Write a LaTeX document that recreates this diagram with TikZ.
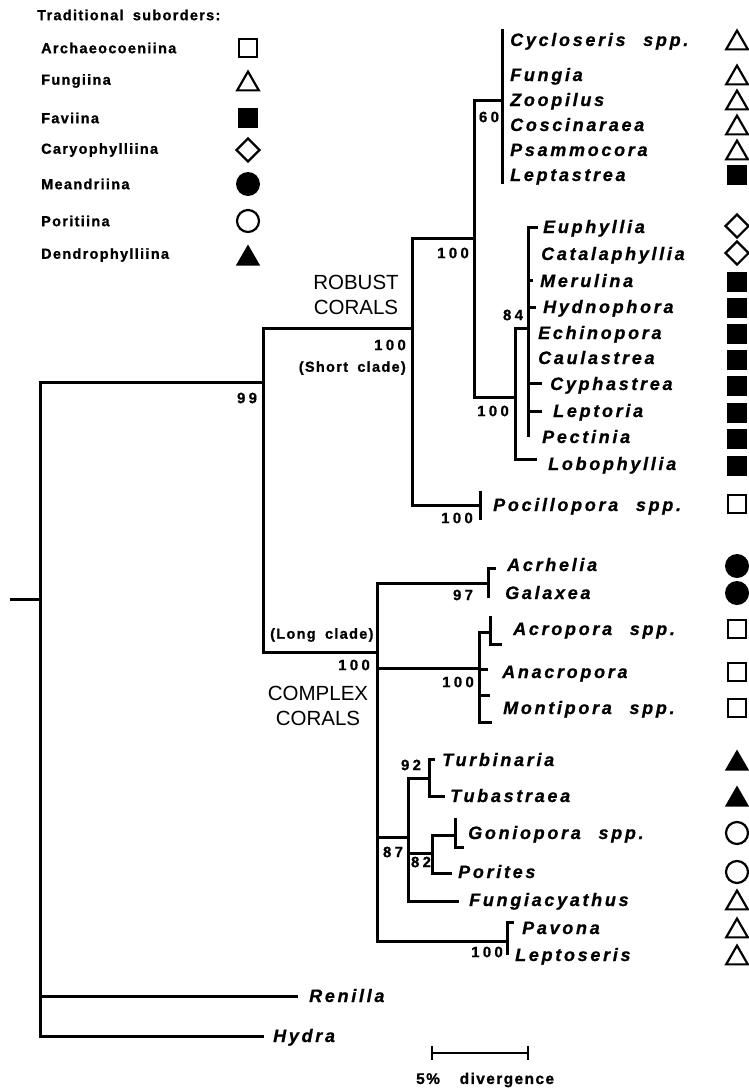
\documentclass[tikz,border=0pt]{standalone}
\usepackage{fontspec}
\setmainfont{Liberation Sans}
\newfontfamily\taxfont[LetterSpace=15, FakeBold=0.8]{Liberation Sans}
\newfontfamily\numfont[LetterSpace=22, FakeBold=0.6]{Liberation Sans}
\newfontfamily\legfont[LetterSpace=9, FakeBold=1.0]{Liberation Sans}
\usetikzlibrary{shapes.geometric}
\begin{document}
\begin{tikzpicture}[x=1pt,y=-1pt,
  br/.style={line width=3pt, line cap=rect, line join=miter},
  tax/.style={anchor=base west, inner sep=0pt, font=\taxfont\bfseries\itshape\fontsize{18}{21}\selectfont},
  supp/.style={inner sep=0pt, font=\numfont\bfseries\fontsize{15}{17}\selectfont},
  cladelab/.style={inner sep=0pt, align=center, font=\fontsize{20.5}{25}\selectfont},
  paren/.style={inner sep=0pt, font=\legfont\bfseries\fontsize{14.5}{16}\selectfont},
  legtxt/.style={anchor=west, inner sep=0pt, font=\legfont\bfseries\fontsize{14.5}{16}\selectfont},
  osq/.style={draw, rectangle, minimum size=18pt, line width=2.2pt, inner sep=0pt},
  fsq/.style={fill, rectangle, minimum size=20pt, inner sep=0pt},
  otri/.style={draw, regular polygon, regular polygon sides=3, minimum size=25pt, line width=2.2pt, inner sep=0pt, yshift=-3.1pt},
  ftri/.style={fill, regular polygon, regular polygon sides=3, minimum size=28pt, inner sep=0pt, yshift=-3.5pt},
  odia/.style={draw, diamond, minimum width=24pt, minimum height=24pt, line width=2.2pt, inner sep=0pt},
  fcirc/.style={fill, circle, minimum size=24pt, inner sep=0pt},
  ocirc/.style={draw, circle, minimum size=22pt, line width=2.2pt, inner sep=0pt}]
\useasboundingbox (0,0) rectangle (748,1090);

% ---------- legend ----------
\node[legtxt] (legtitle) at (37,15) {Traditional\hspace{4pt} suborders:};
\node[legtxt] (l1) at (41,48) {Archaeocoeniina};
\node[legtxt] (l2) at (41,81) {Fungiina};
\node[legtxt] (l3) at (41,118) {Faviina};
\node[legtxt] (l4) at (41,150) {Caryophylliina};
\node[legtxt] (l5) at (41,184) {Meandriina};
\node[legtxt] (l6) at (41,221) {Poritiina};
\node[legtxt] (l7) at (41,255) {Dendrophylliina};
\node[osq] (s1) at (248,48) {};
\node[otri] (s2) at (248,81) {};
\node[fsq] (s3) at (248,118) {};
\node[odia] (s4) at (248,150) {};
\node[fcirc] (s5) at (248,184) {};
\node[ocirc] (s6) at (248,221) {};
\node[ftri] (s7) at (248,255) {};

% ---------- tree coordinates ----------
\coordinate (root0) at (11,599);
\coordinate (root) at (40,599);
\coordinate (n99) at (263,382);
\coordinate (nR) at (412,328);
\coordinate (nA) at (474,238);
\coordinate (n60) at (502,100);
\coordinate (n60t) at (502,30);
\coordinate (n60b) at (502,182);
\coordinate (nB) at (515,397);
\coordinate (n84) at (528,328);
\coordinate (n84t) at (528,227);
\coordinate (n84b) at (528,435);
\coordinate (kEup) at (536,227);
\coordinate (kMer0) at (528,280);
\coordinate (kMer) at (531,280);
\coordinate (kHyd0) at (528,307);
\coordinate (kHyd) at (534,307);
\coordinate (kCyp0) at (528,383);
\coordinate (kCyp) at (540,383);
\coordinate (kLep0) at (528,411);
\coordinate (kLep) at (540,411);
\coordinate (tLob) at (535,459);
\coordinate (tPoc) at (480,505);
\coordinate (tPoct) at (480,492);
\coordinate (tPocb) at (480,518);
\coordinate (nC) at (377,652);
\coordinate (nAG) at (488,583);
\coordinate (nAGt) at (488,568);
\coordinate (nAGb) at (488,596);
\coordinate (kAcr) at (494,568);
\coordinate (nAcr) at (479,668);
\coordinate (tAcro) at (490,632);
\coordinate (tAcrot) at (490,617);
\coordinate (tAcrob) at (490,644);
\coordinate (tAcrof) at (500,644);
\coordinate (tAnac) at (486,669);
\coordinate (tMonb) at (490,722);
\coordinate (kMon0) at (479,695);
\coordinate (kMon) at (488,695);
\coordinate (nDP) at (408,837);
\coordinate (n92) at (429,778);
\coordinate (tTurb) at (433,759);
\coordinate (tTub) at (443,796);
\coordinate (n82) at (432,853);
\coordinate (tGon) at (455,835);
\coordinate (tGont) at (455,819);
\coordinate (tGonb) at (455,847);
\coordinate (tGonf) at (462,847);
\coordinate (tPor) at (450,873);
\coordinate (tFun) at (457,901);
\coordinate (nPL) at (507,941);
\coordinate (nPLt) at (507,922);
\coordinate (nPLb) at (507,953);
\coordinate (kPav) at (512,922);
\coordinate (tRen) at (296,996);
\coordinate (tHyd) at (262,1036);

% ---------- tree branches ----------
\draw[br] (root0) -- (root);
\draw[br] (root) |- (n99);
\draw[br] (root) |- (tRen);
\draw[br] (root) |- (tHyd);
\draw[br] (n99) |- (nR);
\draw[br] (n99) |- (nC);
\draw[br] (nR) |- (nA);
\draw[br] (nR) |- (tPoc);
\draw[br] (tPoct) -- (tPocb);
\draw[br] (nA) |- (n60);
\draw[br] (n60t) -- (n60b);
\draw[br] (nA) |- (nB);
\draw[br] (nB) |- (n84);
\draw[br] (nB) |- (tLob);
\draw[br] (n84t) -- (n84b);
\draw[br] (n84t) -- (kEup);
\draw[br] (kMer0) -- (kMer);
\draw[br] (kHyd0) -- (kHyd);
\draw[br] (kCyp0) -- (kCyp);
\draw[br] (kLep0) -- (kLep);
\draw[br] (nC) |- (nAG);
\draw[br] (nAGt) -- (nAGb);
\draw[br] (nAGt) -- (kAcr);
\draw[br] (nC) |- (nAcr);
\draw[br] (nAcr) |- (tAcro);
\draw[br] (tAcrot) -- (tAcrob) -- (tAcrof);
\draw[br] (nAcr) |- (tAnac);
\draw[br] (nAcr) |- (tMonb);
\draw[br] (kMon0) -- (kMon);
\draw[br] (nC) |- (nDP);
\draw[br] (nDP) |- (n92);
\draw[br] (n92) |- (tTurb);
\draw[br] (n92) |- (tTub);
\draw[br] (nDP) |- (n82);
\draw[br] (n82) |- (tGon);
\draw[br] (tGont) -- (tGonb) -- (tGonf);
\draw[br] (n82) |- (tPor);
\draw[br] (nDP) |- (tFun);
\draw[br] (nC) |- (nPL);
\draw[br] (nPLt) -- (nPLb);
\draw[br] (nPLt) -- (kPav);

% ---------- support values and clade labels ----------
\node[supp] (b99) at (247,398) {99};
\node[supp] (bR) at (390,345) {100};
\node[paren, anchor=east] (shortc) at (406,368) {(Short\hspace{4pt} clade)};
\node[cladelab] (robust) at (356,295) {ROBUST\\CORALS};
\node[supp] (bA) at (453,253) {100};
\node[supp] (b60) at (489,117) {60};
\node[supp] (bB) at (493,411) {100};
\node[supp] (b84) at (513,315) {84};
\node[supp] (bPoc) at (457,518) {100};
\node[paren, anchor=west] (longc) at (270,635) {(Long\hspace{4pt} clade)};
\node[supp] (bC) at (354,665) {100};
\node[cladelab] (complex) at (318,706) {COMPLEX\\CORALS};
\node[supp] (bAG) at (463,595) {97};
\node[supp] (bAcr) at (458,682) {100};
\node[supp] (b92) at (411,765) {92};
\node[supp] (b87) at (393,852) {87};
\node[supp] (b82) at (421,862) {82};
\node[supp] (bPL) at (487,952) {100};

% ---------- taxon names ----------
\node[tax] (Cyc) at (510,46) {Cycloseris\hspace{10pt} spp.};
\node[tax] (Fun) at (510,81) {Fungia};
\node[tax] (Zoo) at (510,106) {Zoopilus};
\node[tax] (Cos) at (510,131) {Coscinaraea};
\node[tax] (Psa) at (510,156) {Psammocora};
\node[tax] (Lpt) at (510,181) {Leptastrea};
\node[tax] (Eup) at (543,233) {Euphyllia};
\node[tax] (Cat) at (541,260) {Catalaphyllia};
\node[tax] (Mer) at (540,287) {Merulina};
\node[tax] (Hyd) at (543,313) {Hydnophora};
\node[tax] (Ech) at (538,339) {Echinopora};
\node[tax] (Cau) at (538,364) {Caulastrea};
\node[tax] (Cyp) at (550,390) {Cyphastrea};
\node[tax] (Leo) at (553,417) {Leptoria};
\node[tax] (Pec) at (542,443) {Pectinia};
\node[tax] (Lob) at (548,470) {Lobophyllia};
\node[tax] (Poc) at (493,511) {Pocillopora\hspace{10pt} spp.};
\node[tax] (Ach) at (507,571) {Acrhelia};
\node[tax] (Gal) at (505,599) {Galaxea};
\node[tax] (Acp) at (513,635) {Acropora\hspace{10pt} spp.};
\node[tax] (Ana) at (502,678) {Anacropora};
\node[tax] (Mon) at (503,714) {Montipora\hspace{10pt} spp.};
\node[tax] (Tur) at (442,766) {Turbinaria};
\node[tax] (Tub) at (450,802) {Tubastraea};
\node[tax] (Gon) at (468,839) {Goniopora\hspace{10pt} spp.};
\node[tax] (Por) at (458,878) {Porites};
\node[tax] (Fgc) at (469,906) {Fungiacyathus};
\node[tax] (Pav) at (522,934) {Pavona};
\node[tax] (Lps) at (515,961) {Leptoseris};
\node[tax] (Ren) at (309,1002) {Renilla};
\node[tax] (Hya) at (273,1042) {Hydra};

% ---------- suborder symbols ----------
\node[otri] (mCyc) at (737,40) {};
\node[otri] (mFun) at (737,75) {};
\node[otri] (mZoo) at (737,100) {};
\node[otri] (mCos) at (737,125) {};
\node[otri] (mPsa) at (737,150) {};
\node[fsq] (mLpt) at (737,175) {};
\node[odia] (mEup) at (737,226) {};
\node[odia] (mCat) at (737,253) {};
\node[fsq] (mMer) at (737,282) {};
\node[fsq] (mHyd) at (737,308) {};
\node[fsq] (mEch) at (737,334) {};
\node[fsq] (mCau) at (737,360) {};
\node[fsq] (mCyp) at (737,386) {};
\node[fsq] (mLeo) at (737,413) {};
\node[fsq] (mPec) at (737,439) {};
\node[fsq] (mLob) at (737,466) {};
\node[osq] (mPoc) at (737,504) {};
\node[fcirc] (mAch) at (737,566) {};
\node[fcirc] (mGal) at (737,593) {};
\node[osq] (mAcp) at (737,629) {};
\node[osq] (mAna) at (737,672) {};
\node[osq] (mMon) at (737,708) {};
\node[ftri] (mTur) at (737,760) {};
\node[ftri] (mTub) at (737,796) {};
\node[ocirc] (mGon) at (737,833) {};
\node[ocirc] (mPor) at (737,872) {};
\node[otri] (mFgc) at (737,900) {};
\node[otri] (mPav) at (737,928) {};
\node[otri] (mLps) at (737,955) {};

% ---------- scale bar ----------
\coordinate (sb0) at (432,1053);
\coordinate (sb1) at (528,1053);
\coordinate (sb0t) at (432,1046);
\coordinate (sb0b) at (432,1060);
\coordinate (sb1t) at (528,1046);
\coordinate (sb1b) at (528,1060);
\draw[line width=2.6pt] (sb0) -- (sb1);
\draw[line width=2.4pt] (sb0t) -- (sb0b);
\draw[line width=2.4pt] (sb1t) -- (sb1b);
\node[paren, anchor=west, font=\legfont\bfseries\fontsize{15.5}{17}\selectfont] (scaletxt) at (416,1080) {5\%\hspace{14pt} divergence};
\end{tikzpicture}
\end{document}
